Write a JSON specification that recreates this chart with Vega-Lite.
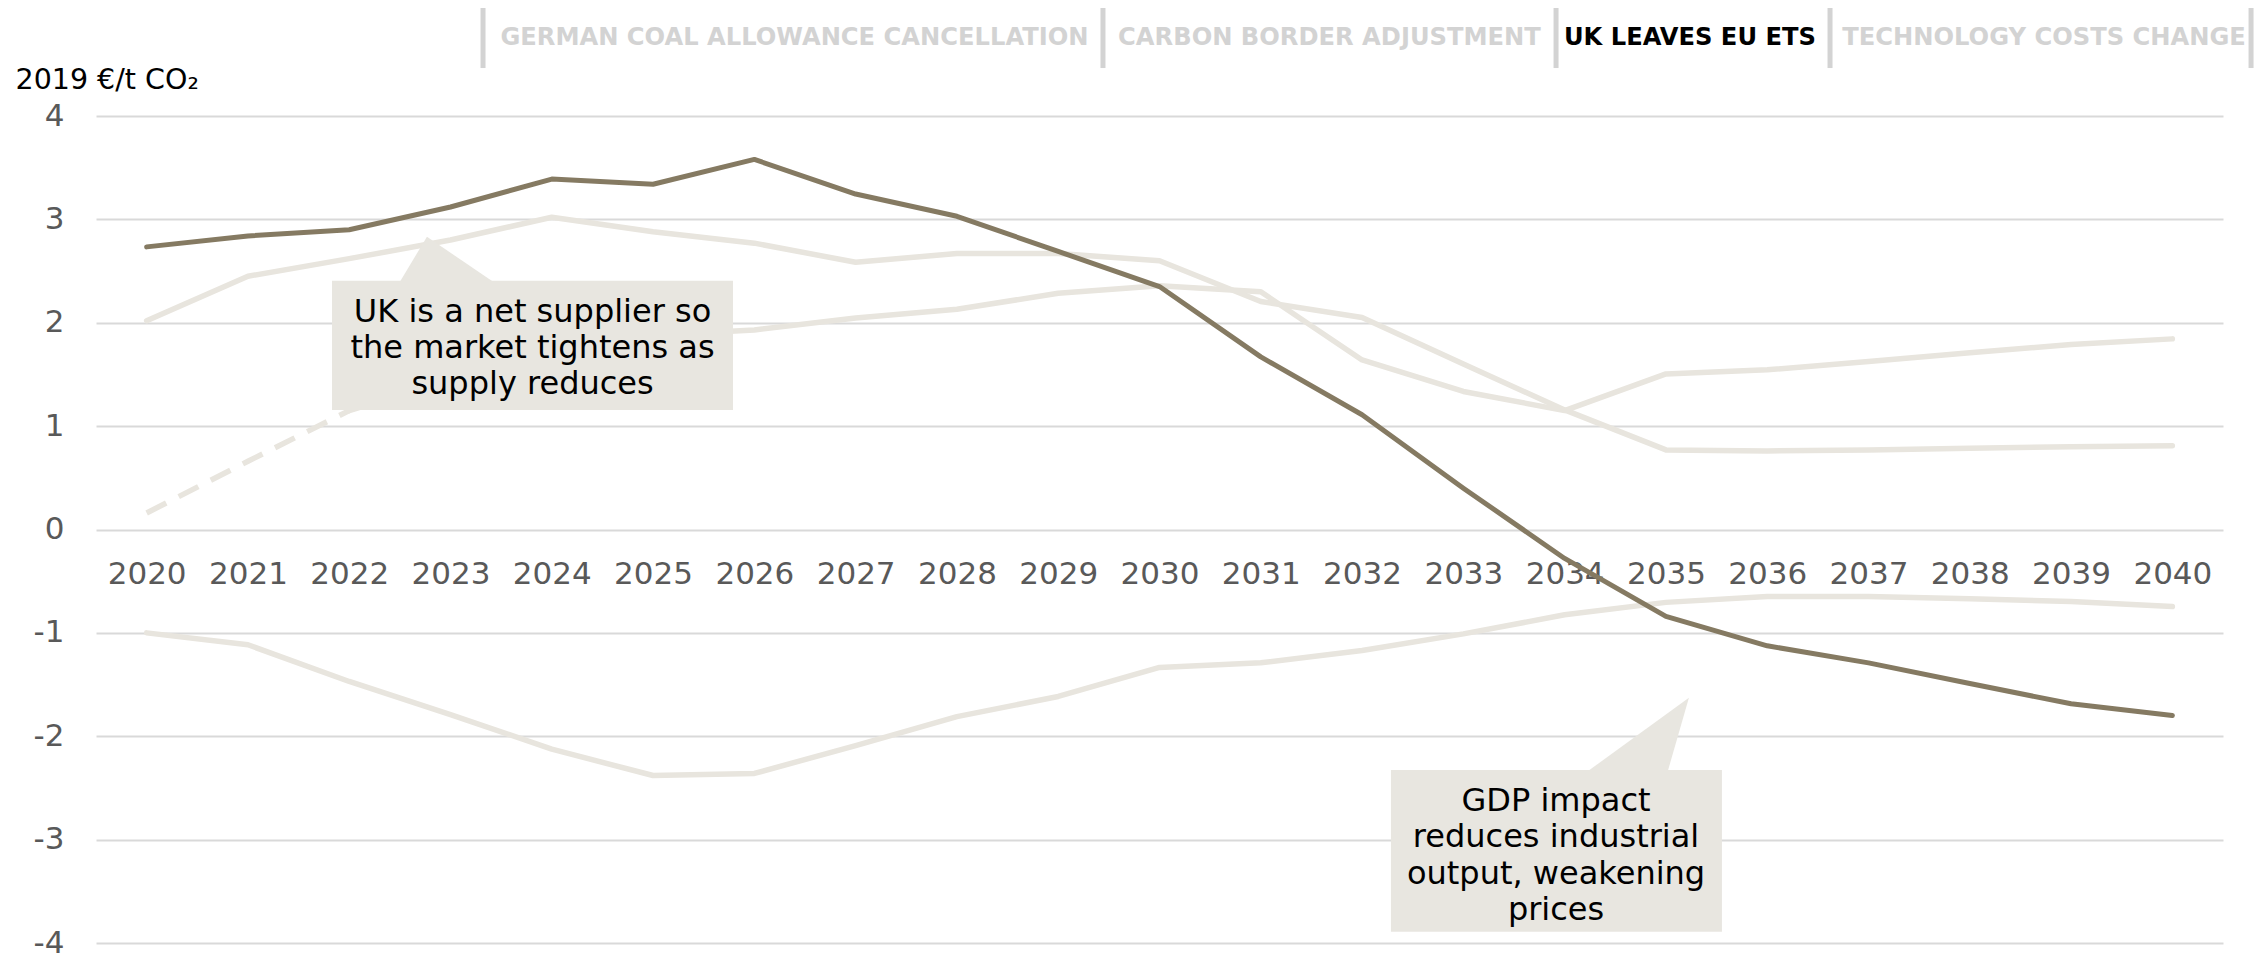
{
  "$schema": "https://vega.github.io/schema/vega-lite/v6.json",
  "autosize": "none",
  "width": 2127,
  "height": 827,
  "padding": {"left": 96, "top": 116, "right": 37, "bottom": 12},
  "background": "white",
  "config": {
    "view": {"stroke": null},
    "font": "DejaVu Sans",
    "text": {"font": "DejaVu Sans"}
  },
  "data": {"values": [{"note": "annotation"}]},
  "datasets": {
    "prices": [
      {"scenario": "German coal allowance cancellation", "style": "solid", "year": 2020, "value": 2.02},
      {"scenario": "German coal allowance cancellation", "style": "solid", "year": 2021, "value": 2.45},
      {"scenario": "German coal allowance cancellation", "style": "solid", "year": 2022, "value": 2.62},
      {"scenario": "German coal allowance cancellation", "style": "solid", "year": 2023, "value": 2.8},
      {"scenario": "German coal allowance cancellation", "style": "solid", "year": 2024, "value": 3.02},
      {"scenario": "German coal allowance cancellation", "style": "solid", "year": 2025, "value": 2.88},
      {"scenario": "German coal allowance cancellation", "style": "solid", "year": 2026, "value": 2.77},
      {"scenario": "German coal allowance cancellation", "style": "solid", "year": 2027, "value": 2.585},
      {"scenario": "German coal allowance cancellation", "style": "solid", "year": 2028, "value": 2.67},
      {"scenario": "German coal allowance cancellation", "style": "solid", "year": 2029, "value": 2.67},
      {"scenario": "German coal allowance cancellation", "style": "solid", "year": 2030, "value": 2.6},
      {"scenario": "German coal allowance cancellation", "style": "solid", "year": 2031, "value": 2.205},
      {"scenario": "German coal allowance cancellation", "style": "solid", "year": 2032, "value": 2.05},
      {"scenario": "German coal allowance cancellation", "style": "solid", "year": 2033, "value": 1.6},
      {"scenario": "German coal allowance cancellation", "style": "solid", "year": 2034, "value": 1.157},
      {"scenario": "German coal allowance cancellation", "style": "solid", "year": 2035, "value": 0.77},
      {"scenario": "German coal allowance cancellation", "style": "solid", "year": 2036, "value": 0.76},
      {"scenario": "German coal allowance cancellation", "style": "solid", "year": 2037, "value": 0.77},
      {"scenario": "German coal allowance cancellation", "style": "solid", "year": 2038, "value": 0.787},
      {"scenario": "German coal allowance cancellation", "style": "solid", "year": 2039, "value": 0.8},
      {"scenario": "German coal allowance cancellation", "style": "solid", "year": 2040, "value": 0.81},

      {"scenario": "Carbon border adjustment", "style": "dashed", "year": 2020, "value": 0.16},
      {"scenario": "Carbon border adjustment", "style": "dashed", "year": 2021, "value": 0.66},
      {"scenario": "Carbon border adjustment", "style": "dashed", "year": 2022, "value": 1.15},
      {"scenario": "Carbon border adjustment", "style": "solid", "year": 2022, "value": 1.15},
      {"scenario": "Carbon border adjustment", "style": "solid", "year": 2023, "value": 1.45},
      {"scenario": "Carbon border adjustment", "style": "solid", "year": 2024, "value": 1.7},
      {"scenario": "Carbon border adjustment", "style": "solid", "year": 2025, "value": 1.88},
      {"scenario": "Carbon border adjustment", "style": "solid", "year": 2026, "value": 1.93},
      {"scenario": "Carbon border adjustment", "style": "solid", "year": 2027, "value": 2.045},
      {"scenario": "Carbon border adjustment", "style": "solid", "year": 2028, "value": 2.13},
      {"scenario": "Carbon border adjustment", "style": "solid", "year": 2029, "value": 2.285},
      {"scenario": "Carbon border adjustment", "style": "solid", "year": 2030, "value": 2.357},
      {"scenario": "Carbon border adjustment", "style": "solid", "year": 2031, "value": 2.3},
      {"scenario": "Carbon border adjustment", "style": "solid", "year": 2032, "value": 1.64},
      {"scenario": "Carbon border adjustment", "style": "solid", "year": 2033, "value": 1.335},
      {"scenario": "Carbon border adjustment", "style": "solid", "year": 2034, "value": 1.15},
      {"scenario": "Carbon border adjustment", "style": "solid", "year": 2035, "value": 1.505},
      {"scenario": "Carbon border adjustment", "style": "solid", "year": 2036, "value": 1.545},
      {"scenario": "Carbon border adjustment", "style": "solid", "year": 2037, "value": 1.625},
      {"scenario": "Carbon border adjustment", "style": "solid", "year": 2038, "value": 1.71},
      {"scenario": "Carbon border adjustment", "style": "solid", "year": 2039, "value": 1.79},
      {"scenario": "Carbon border adjustment", "style": "solid", "year": 2040, "value": 1.844},

      {"scenario": "Technology costs change", "style": "solid", "year": 2020, "value": -1.0},
      {"scenario": "Technology costs change", "style": "solid", "year": 2021, "value": -1.115},
      {"scenario": "Technology costs change", "style": "solid", "year": 2022, "value": -1.47},
      {"scenario": "Technology costs change", "style": "solid", "year": 2023, "value": -1.79},
      {"scenario": "Technology costs change", "style": "solid", "year": 2024, "value": -2.125},
      {"scenario": "Technology costs change", "style": "solid", "year": 2025, "value": -2.38},
      {"scenario": "Technology costs change", "style": "solid", "year": 2026, "value": -2.36},
      {"scenario": "Technology costs change", "style": "solid", "year": 2027, "value": -2.09},
      {"scenario": "Technology costs change", "style": "solid", "year": 2028, "value": -1.81},
      {"scenario": "Technology costs change", "style": "solid", "year": 2029, "value": -1.615},
      {"scenario": "Technology costs change", "style": "solid", "year": 2030, "value": -1.334},
      {"scenario": "Technology costs change", "style": "solid", "year": 2031, "value": -1.29},
      {"scenario": "Technology costs change", "style": "solid", "year": 2032, "value": -1.17},
      {"scenario": "Technology costs change", "style": "solid", "year": 2033, "value": -1.01},
      {"scenario": "Technology costs change", "style": "solid", "year": 2034, "value": -0.825},
      {"scenario": "Technology costs change", "style": "solid", "year": 2035, "value": -0.705},
      {"scenario": "Technology costs change", "style": "solid", "year": 2036, "value": -0.648},
      {"scenario": "Technology costs change", "style": "solid", "year": 2037, "value": -0.648},
      {"scenario": "Technology costs change", "style": "solid", "year": 2038, "value": -0.67},
      {"scenario": "Technology costs change", "style": "solid", "year": 2039, "value": -0.696},
      {"scenario": "Technology costs change", "style": "solid", "year": 2040, "value": -0.745},

      {"scenario": "UK leaves EU ETS", "style": "solid", "year": 2020, "value": 2.734},
      {"scenario": "UK leaves EU ETS", "style": "solid", "year": 2021, "value": 2.84},
      {"scenario": "UK leaves EU ETS", "style": "solid", "year": 2022, "value": 2.9},
      {"scenario": "UK leaves EU ETS", "style": "solid", "year": 2023, "value": 3.12},
      {"scenario": "UK leaves EU ETS", "style": "solid", "year": 2024, "value": 3.39},
      {"scenario": "UK leaves EU ETS", "style": "solid", "year": 2025, "value": 3.34},
      {"scenario": "UK leaves EU ETS", "style": "solid", "year": 2026, "value": 3.58},
      {"scenario": "UK leaves EU ETS", "style": "solid", "year": 2027, "value": 3.245},
      {"scenario": "UK leaves EU ETS", "style": "solid", "year": 2028, "value": 3.03},
      {"scenario": "UK leaves EU ETS", "style": "solid", "year": 2029, "value": 2.69},
      {"scenario": "UK leaves EU ETS", "style": "solid", "year": 2030, "value": 2.35},
      {"scenario": "UK leaves EU ETS", "style": "solid", "year": 2031, "value": 1.67},
      {"scenario": "UK leaves EU ETS", "style": "solid", "year": 2032, "value": 1.11},
      {"scenario": "UK leaves EU ETS", "style": "solid", "year": 2033, "value": 0.4},
      {"scenario": "UK leaves EU ETS", "style": "solid", "year": 2034, "value": -0.28},
      {"scenario": "UK leaves EU ETS", "style": "solid", "year": 2035, "value": -0.84},
      {"scenario": "UK leaves EU ETS", "style": "solid", "year": 2036, "value": -1.125},
      {"scenario": "UK leaves EU ETS", "style": "solid", "year": 2037, "value": -1.29},
      {"scenario": "UK leaves EU ETS", "style": "solid", "year": 2038, "value": -1.49},
      {"scenario": "UK leaves EU ETS", "style": "solid", "year": 2039, "value": -1.686},
      {"scenario": "UK leaves EU ETS", "style": "solid", "year": 2040, "value": -1.8}
    ]
  },
  "layer": [
    {
      "data": {"name": "prices"},
      "transform": [{"filter": "datum.scenario !== 'UK leaves EU ETS' && datum.style === 'solid'"}],
      "mark": {"type": "line", "color": "#E8E5DE", "strokeWidth": 5.5, "strokeCap": "round", "strokeJoin": "round"},
      "encoding": {
        "x": {
          "field": "year", "type": "quantitative",
          "scale": {"domain": [2019.5, 2040.5], "nice": false, "zero": false},
          "axis": {
            "title": null, "orient": "bottom", "offset": -413.5,
            "values": [2020, 2021, 2022, 2023, 2024, 2025, 2026, 2027, 2028, 2029, 2030, 2031, 2032, 2033, 2034, 2035, 2036, 2037, 2038, 2039, 2040],
            "format": "d", "grid": false, "domain": false, "ticks": false, "tickSize": 0,
            "labelFont": "DejaVu Sans", "labelFontSize": 31, "labelColor": "#595959",
            "labelBaseline": "alphabetic", "labelPadding": 53.5, "labelOverlap": false, "labelFlush": false
          }
        },
        "y": {
          "field": "value", "type": "quantitative",
          "scale": {"domain": [-4, 4], "nice": false, "zero": false},
          "axis": {
            "title": "2019 €/t CO₂", "titleAngle": 0, "titleAlign": "left", "titleBaseline": "alphabetic",
            "titleX": -81, "titleY": -28, "titleFont": "DejaVu Sans", "titleFontSize": 28.5,
            "titleFontWeight": "normal", "titleColor": "#000000",
            "values": [-4, -3, -2, -1, 0, 1, 2, 3, 4],
            "labelExpr": "datum.value < 0 ? '-' + (-datum.value) : '' + datum.value",
            "grid": true, "gridColor": "#D9D9D9", "gridWidth": 2,
            "domain": false, "ticks": false, "tickSize": 0,
            "labelFont": "DejaVu Sans", "labelFontSize": 31, "labelColor": "#595959", "labelPadding": 32
          }
        },
        "detail": {"field": "scenario"}
      }
    },
    {
      "data": {"name": "prices"},
      "transform": [{"filter": "datum.style === 'dashed'"}],
      "mark": {"type": "line", "color": "#E8E5DE", "strokeWidth": 5.5, "strokeDash": [22, 14]},
      "encoding": {
        "x": {"field": "year", "type": "quantitative"},
        "y": {"field": "value", "type": "quantitative"},
        "detail": {"field": "scenario"}
      }
    },
    {
      "data": {"name": "prices"},
      "transform": [{"filter": "datum.scenario === 'UK leaves EU ETS'"}],
      "mark": {"type": "line", "color": "#857A62", "strokeWidth": 5, "strokeCap": "round", "strokeJoin": "round"},
      "encoding": {
        "x": {"field": "year", "type": "quantitative"},
        "y": {"field": "value", "type": "quantitative"}
      }
    },
    {
      "mark": {"type": "rect", "color": "#E8E6E0"},
      "encoding": {
        "x": {"datum": 2021.83, "type": "quantitative"},
        "x2": {"datum": 2025.789},
        "y": {"datum": 2.407, "type": "quantitative"},
        "y2": {"datum": 1.156}
      }
    },
    {
      "mark": {"type": "point", "filled": true, "color": "#E8E6E0", "opacity": 1, "strokeWidth": 0, "size": 14400,
               "shape": "M-0.833,0.4167L0.833,0.4167L-0.35,-0.388Z"},
      "encoding": {
        "x": {"datum": 2022.975, "type": "quantitative"},
        "y": {"datum": 2.607, "type": "quantitative"}
      }
    },
    {
      "mark": {"type": "rect", "color": "#E8E6E0"},
      "encoding": {
        "x": {"datum": 2032.285, "type": "quantitative"},
        "x2": {"datum": 2035.553},
        "y": {"datum": -2.326, "type": "quantitative"},
        "y2": {"datum": -3.891}
      }
    },
    {
      "mark": {"type": "point", "filled": true, "color": "#E8E6E0", "opacity": 1, "strokeWidth": 0, "size": 14400,
               "shape": "M-0.867,0.633L0.517,0.633L0.883,-0.638Z"},
      "encoding": {
        "x": {"datum": 2034.704, "type": "quantitative"},
        "y": {"datum": -1.998, "type": "quantitative"}
      }
    },
    {
      "mark": {"type": "text", "text": ["UK is a net supplier so", "the market tightens as", "supply reduces"],
               "font": "DejaVu Sans", "fontSize": 32, "color": "#000000", "align": "center", "baseline": "alphabetic", "lineHeight": 36.3},
      "encoding": {
        "x": {"datum": 2023.81, "type": "quantitative"},
        "y": {"datum": 2.01, "type": "quantitative"}
      }
    },
    {
      "mark": {"type": "text", "text": ["GDP impact", "reduces industrial", "output, weakening", "prices"],
               "font": "DejaVu Sans", "fontSize": 32, "color": "#000000", "align": "center", "baseline": "alphabetic", "lineHeight": 36.3},
      "encoding": {
        "x": {"datum": 2033.915, "type": "quantitative"},
        "y": {"datum": -2.723, "type": "quantitative"}
      }
    },
    {
      "mark": {"type": "text", "text": "GERMAN COAL ALLOWANCE CANCELLATION", "font": "DejaVu Sans", "fontWeight": "bold", "fontSize": 24.2, "color": "#D3D3D3", "align": "center", "baseline": "alphabetic"},
      "encoding": {"x": {"datum": 2026.396, "type": "quantitative"}, "y": {"datum": 4.687, "type": "quantitative"}}
    },
    {
      "mark": {"type": "text", "text": "CARBON BORDER ADJUSTMENT", "font": "DejaVu Sans", "fontWeight": "bold", "fontSize": 24.2, "color": "#D3D3D3", "align": "center", "baseline": "alphabetic"},
      "encoding": {"x": {"datum": 2031.678, "type": "quantitative"}, "y": {"datum": 4.687, "type": "quantitative"}}
    },
    {
      "mark": {"type": "text", "text": "UK LEAVES EU ETS", "font": "DejaVu Sans", "fontWeight": "bold", "fontSize": 24.2, "color": "#000000", "align": "center", "baseline": "alphabetic"},
      "encoding": {"x": {"datum": 2035.237, "type": "quantitative"}, "y": {"datum": 4.687, "type": "quantitative"}}
    },
    {
      "mark": {"type": "text", "text": "TECHNOLOGY COSTS CHANGE", "font": "DejaVu Sans", "fontWeight": "bold", "fontSize": 24.2, "color": "#D3D3D3", "align": "center", "baseline": "alphabetic"},
      "encoding": {"x": {"datum": 2038.733, "type": "quantitative"}, "y": {"datum": 4.687, "type": "quantitative"}}
    },
    {
      "mark": {"type": "rule", "color": "#D3D3D3", "strokeWidth": 5},
      "encoding": {"x": {"datum": 2023.321, "type": "quantitative"}, "y": {"datum": 5.045, "type": "quantitative"}, "y2": {"datum": 4.464}}
    },
    {
      "mark": {"type": "rule", "color": "#D3D3D3", "strokeWidth": 5},
      "encoding": {"x": {"datum": 2029.442, "type": "quantitative"}, "y": {"datum": 5.045, "type": "quantitative"}, "y2": {"datum": 4.464}}
    },
    {
      "mark": {"type": "rule", "color": "#D3D3D3", "strokeWidth": 5},
      "encoding": {"x": {"datum": 2033.915, "type": "quantitative"}, "y": {"datum": 5.045, "type": "quantitative"}, "y2": {"datum": 4.464}}
    },
    {
      "mark": {"type": "rule", "color": "#D3D3D3", "strokeWidth": 5},
      "encoding": {"x": {"datum": 2036.62, "type": "quantitative"}, "y": {"datum": 5.045, "type": "quantitative"}, "y2": {"datum": 4.464}}
    },
    {
      "mark": {"type": "rule", "color": "#D3D3D3", "strokeWidth": 5},
      "encoding": {"x": {"datum": 2040.777, "type": "quantitative"}, "y": {"datum": 5.045, "type": "quantitative"}, "y2": {"datum": 4.464}}
    }
  ]
}
